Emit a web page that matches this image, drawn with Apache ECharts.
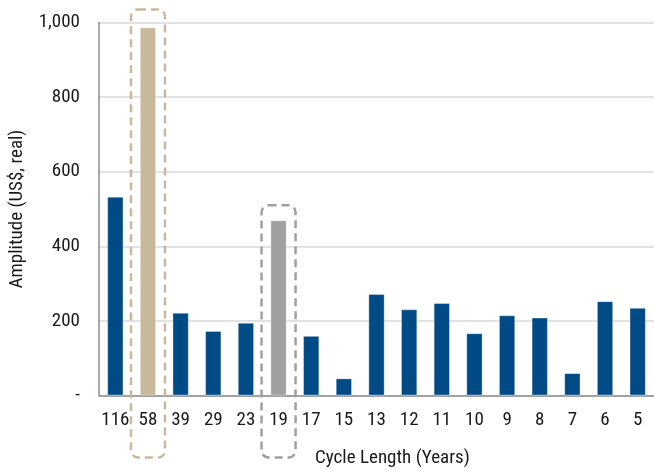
<!DOCTYPE html>
<html><head><meta charset="utf-8">
<script src="https://cdn.jsdelivr.net/npm/echarts@6/dist/echarts.min.js"></script>
<style>html,body{margin:0;padding:0;background:#fff}#c{width:654px;height:474px}</style>
</head><body><div id="c"></div>
<script>
const categories = ['116','58','39','29','23','19','17','15','13','12','11','10','9','8','7','6','5'];
const amplitudes = [533, 987, 222, 173, 195, 470, 160, 46, 272, 231, 248, 167, 215, 209, 60, 253, 235];
const highlightTan = '58';
const highlightGray = '19';
const yTicks = [0, 200, 400, 600, 800, 1000];

const FONT = '"Roboto Condensed", "Liberation Sans Narrow", sans-serif';
const BLUE = '#004A86', TAN = '#C9B99B', GRAY = '#A0A0A0';

const chart = echarts.init(document.getElementById('c'), null, {renderer: 'canvas'});
const data = amplitudes.map((v, i) => ({
  value: v,
  itemStyle: {color: categories[i] === highlightTan ? TAN : categories[i] === highlightGray ? GRAY : BLUE}
}));
chart.setOption({
  animation: false,
  grid: {left: 97, top: 22.5, width: 562, height: 373},
  xAxis: {
    type: 'category', data: categories,
    axisLine: {lineStyle: {color: '#8C8C8C', width: 1.5}},
    axisTick: {show: false},
    axisLabel: {color: '#1a1a1a', fontSize: 19, fontFamily: FONT, margin: 15, interval: 0}
  },
  yAxis: {
    type: 'value', min: 0, max: 1000, interval: 200,
    name: 'Amplitude (US$, real)', nameLocation: 'middle', nameGap: 72,
    nameTextStyle: {color: '#1a1a1a', fontSize: 19, fontFamily: FONT},
    axisLine: {show: true, lineStyle: {color: '#8C8C8C', width: 1.5}},
    axisTick: {show: false},
    splitLine: {lineStyle: {color: '#D9D9D9', width: 1.5}},
    axisLabel: {color: '#1a1a1a', fontSize: 19, fontFamily: FONT, margin: 19,
      formatter: v => yTicks.includes(v) ? (v === 0 ? '-' : v.toLocaleString('en-US')) : ''}
  },
  series: [{
    type: 'bar', data: data, barWidth: '50%',
    itemStyle: {borderColor: 'rgba(255,255,255,0.35)', borderWidth: 1}
  }]
});

function box(cat, topValue, color) {
  const i = categories.indexOf(cat);
  const c = chart.convertToPixel({xAxisIndex: 0, yAxisIndex: 0}, [i, topValue]);
  const zero = chart.convertToPixel({xAxisIndex: 0, yAxisIndex: 0}, [i, 0]);
  const w = 34;
  return {
    type: 'rect',
    shape: {x: c[0] - w / 2, y: c[1], width: w, height: zero[1] + 62 - c[1], r: 7},
    style: {fill: 'none', stroke: color, lineWidth: 2.5, lineDash: [8, 5]},
    z: 10
  };
}
const iT = categories.indexOf(highlightTan), iG = categories.indexOf(highlightGray);
chart.setOption({
  graphic: [
    box(highlightTan, amplitudes[iT] + 48, TAN),
    box(highlightGray, amplitudes[iG] + 40, GRAY),
    {type: 'text', left: 315, top: 449, style: {text: 'Cycle Length (Years)', fill: '#1a1a1a', font: '19px ' + FONT}}
  ]
});
</script></body></html>
